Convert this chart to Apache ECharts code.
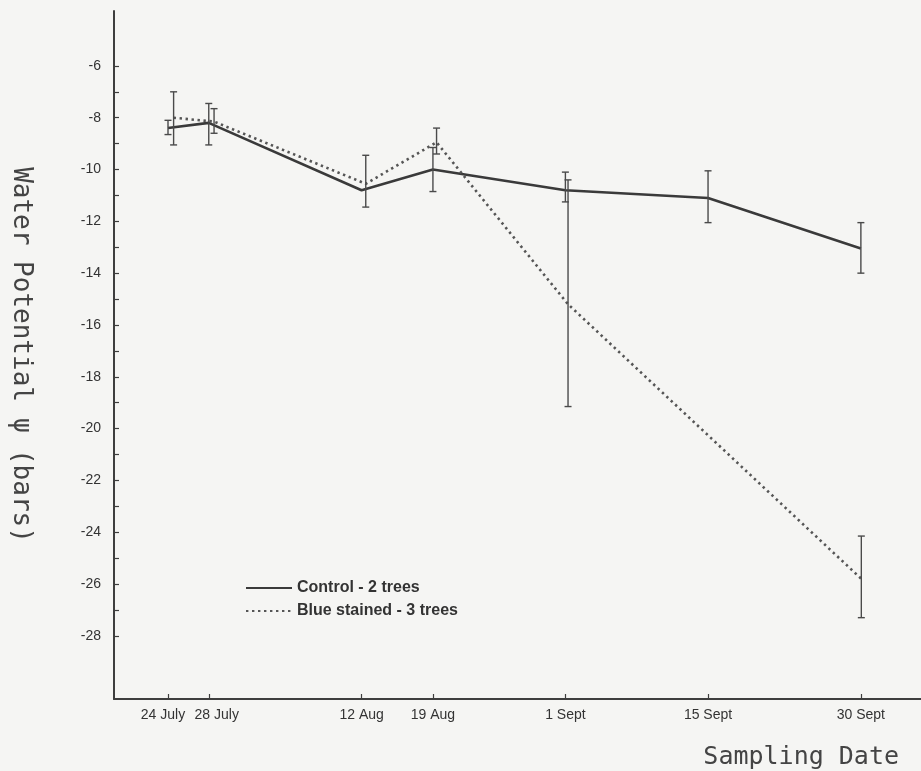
<!DOCTYPE html>
<html>
<head>
<meta charset="utf-8">
<script src="https://cdn.jsdelivr.net/npm/echarts@6/dist/echarts.min.js"></script>
<style>
html,body{margin:0;padding:0;background:#f5f5f3;}
#chart{width:921px;height:771px;}
</style>
</head>
<body>
<div id="chart"></div>
<script>
// Sampling dates as days since 24 July
const dayOffsets = [0, 4, 19, 26, 39, 53, 68];
const dateLabels = ['24 July', '28 July', '12 Aug', '19 Aug', '1 Sept', '15 Sept', '30 Sept'];
const yTickLabels = [-6, -8, -10, -12, -14, -16, -18, -20, -22, -24, -26, -28];
const yMinorTicks = [-6, -7, -8, -9, -10, -11, -12, -13, -14, -15, -16, -17, -18, -19, -20, -21, -22, -23, -24, -25, -26, -27, -28];

// Control - 2 trees
const controlMean = [-8.4, -8.2, -10.8, -10.0, -10.8, -11.1, -13.05];
const controlHigh = [-8.1, -7.45, null, -9.15, -10.1, -10.05, -12.05];
const controlLow  = [-8.65, -9.05, null, -10.85, -11.25, -12.05, -14.0];

// Blue stained - 3 trees
const blueMean = [-8.0, -8.15, -10.55, -8.95, -15.2, null, -25.8];
const blueHigh = [-7.0, -7.65, -9.45, -8.4, -10.4, null, -24.15];
const blueLow  = [-9.05, -8.6, -11.45, -9.4, -19.15, null, -27.3];

const seriesNames = ['Control - 2 trees', 'Blue stained - 3 trees'];

const ink = '#3e3e3e';
const X_MIN = -5.3, X_MAX = 73.9, Y_MIN = -30.44, Y_MAX = -3.88;

function pairs(xs, ys) { return xs.map((x, i) => [x, ys[i]]); }
function errData(xs, hi, lo) {
  const out = [];
  xs.forEach((x, i) => { if (hi[i] != null && lo[i] != null) out.push([x, hi[i], lo[i]]); });
  return out;
}
function errRender(params, api) {
  const p1 = api.coord([api.value(0), api.value(1)]);
  const p2 = api.coord([api.value(0), api.value(2)]);
  const cap = 3.5;
  const st = { stroke: '#4a4a4a', lineWidth: 1.4 };
  return {
    type: 'group',
    children: [
      { type: 'line', shape: { x1: p1[0], y1: p1[1], x2: p2[0], y2: p2[1] }, style: st },
      { type: 'line', shape: { x1: p1[0] - cap, y1: p1[1], x2: p1[0] + cap, y2: p1[1] }, style: st },
      { type: 'line', shape: { x1: p2[0] - cap, y1: p2[1], x2: p2[0] + cap, y2: p2[1] }, style: st }
    ]
  };
}

const chart = echarts.init(document.getElementById('chart'), null, { renderer: 'canvas' });

const baseX = {
  type: 'value', min: X_MIN, max: X_MAX, splitLine: { show: false }
};
const baseY = {
  type: 'value', min: Y_MIN, max: Y_MAX, splitLine: { show: false }
};
const lblFont = { fontFamily: 'Liberation Sans', fontSize: 14, color: '#333' };

const option = {
  backgroundColor: '#f5f5f3',
  animation: false,
  grid: [
    { left: 114, width: 807, top: 11, bottom: 72 },
    { left: 120, width: 807, top: 11, bottom: 72 }
  ],
  legend: {
    orient: 'vertical',
    left: 240,
    top: 575,
    itemWidth: 46,
    itemHeight: 10,
    itemGap: 7,
    data: seriesNames,
    itemStyle: { opacity: 0 },
    textStyle: { fontFamily: 'Liberation Sans', fontWeight: 'bold', fontSize: 16, color: '#333' }
  },
  xAxis: [
    Object.assign({}, baseX, {
      gridIndex: 0,
      axisLine: { show: true, onZero: false, lineStyle: { color: ink, width: 2 } },
      axisTick: { show: true, inside: true, length: 5, interval: 0, customValues: dayOffsets, lineStyle: { color: ink, width: 1.2 } },
      axisLabel: Object.assign({
        show: true, customValues: dayOffsets, margin: 9, interval: 0,
        showMinLabel: true, showMaxLabel: true, hideOverlap: false,
        formatter: v => {
          const i = dayOffsets.indexOf(v);
          if (i < 0) return '';
          if (i === 0) return '{l|' + dateLabels[i] + '}';
          if (i === 1) return '{r|' + dateLabels[i] + '}';
          return dateLabels[i];
        },
        rich: {
          l: Object.assign({ padding: [0, 10, 0, 0] }, lblFont),
          r: Object.assign({ padding: [0, 0, 0, 16] }, lblFont)
        }
      }, lblFont),
      name: 'Sampling Date',
      nameLocation: 'end',
      nameGap: -22,
      nameTextStyle: {
        fontFamily: 'DejaVu Sans Mono', fontSize: 25, color: '#444',
        align: 'right', verticalAlign: 'top', padding: [46, 0, 0, 0]
      }
    }),
    Object.assign({}, baseX, { gridIndex: 1, show: false })
  ],
  yAxis: [
    Object.assign({}, baseY, {
      gridIndex: 0,
      axisLine: { show: true, onZero: false, lineStyle: { color: ink, width: 2 } },
      axisTick: { show: true, inside: true, length: 5, customValues: yMinorTicks, lineStyle: { color: ink, width: 1.2 } },
      axisLabel: {
        show: true, customValues: yTickLabels, margin: 13,
        fontFamily: 'Liberation Sans', fontSize: 14, color: '#333'
      },
      name: 'Water Potential ψ (bars)',
      nameLocation: 'middle',
      nameRotate: -90,
      nameGap: 80,
      nameTextStyle: { fontFamily: 'DejaVu Sans Mono', fontSize: 26, color: '#444' }
    }),
    Object.assign({}, baseY, { gridIndex: 1, show: false })
  ],
  series: [
    {
      name: seriesNames[0], type: 'line', xAxisIndex: 0, yAxisIndex: 0,
      data: pairs(dayOffsets, controlMean), symbol: 'none',
      lineStyle: { color: '#3a3a3a', width: 2.6, type: 'solid' },
      itemStyle: { color: '#3a3a3a' }, z: 3
    },
    {
      name: seriesNames[1], type: 'line', xAxisIndex: 1, yAxisIndex: 1,
      data: pairs(dayOffsets, blueMean), connectNulls: true, symbol: 'none',
      lineStyle: { color: '#555', width: 2.6, type: [2.4, 3.6], cap: 'butt' },
      itemStyle: { color: '#555' }, z: 3
    },
    {
      type: 'custom', xAxisIndex: 0, yAxisIndex: 0,
      data: errData(dayOffsets, controlHigh, controlLow),
      encode: { x: 0, y: [1, 2] }, renderItem: errRender, z: 4, silent: true
    },
    {
      type: 'custom', xAxisIndex: 1, yAxisIndex: 1,
      data: errData(dayOffsets, blueHigh, blueLow),
      encode: { x: 0, y: [1, 2] }, renderItem: errRender, z: 4, silent: true
    }
  ]
};
chart.setOption(option);
</script>
</body>
</html>
